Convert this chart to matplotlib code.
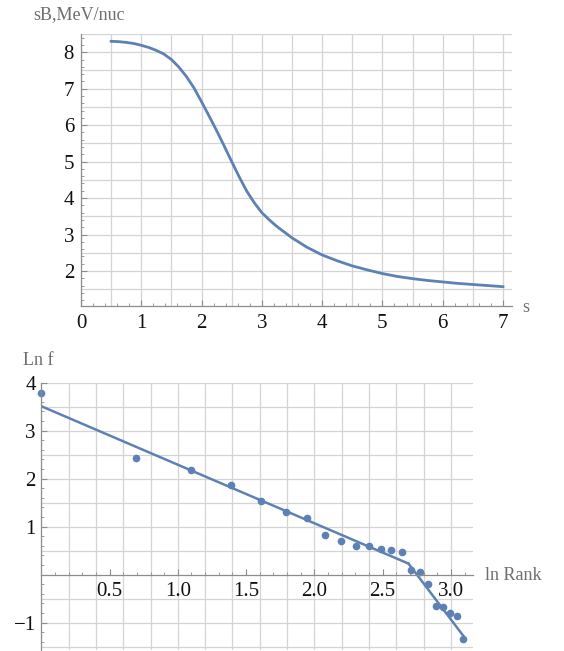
import numpy as np
import matplotlib
matplotlib.use('Agg')
import matplotlib.pyplot as plt
from matplotlib.ticker import MultipleLocator, FixedLocator

plt.rcParams['font.family'] = ['Liberation Serif', 'DejaVu Serif']

# top chart: binding energy per nucleon vs s
s_vals = [0.5, 0.625, 0.75, 0.875, 1.0, 1.125, 1.25, 1.375, 1.5, 1.625, 1.75, 1.875,
          2.0, 2.125, 2.25, 2.375, 2.5, 2.625, 2.75, 2.875, 3.0, 3.125, 3.25, 3.5,
          3.75, 4.0, 4.25, 4.5, 4.75, 5.0, 5.25, 5.5, 5.75, 6.0, 6.25, 6.5, 6.75, 7.0]
sB_vals = [8.30, 8.29, 8.27, 8.24, 8.19, 8.13, 8.05, 7.95, 7.80, 7.59, 7.33, 7.02,
           6.64, 6.25, 5.85, 5.43, 5.00, 4.58, 4.19, 3.87, 3.60, 3.40, 3.22, 2.91,
           2.65, 2.44, 2.28, 2.14, 2.03, 1.93, 1.85, 1.79, 1.74, 1.70, 1.66, 1.63, 1.60, 1.57]

# bottom chart: ln f vs ln rank, ranks 1..22
ln_rank = [0.0, 0.693, 1.099, 1.386, 1.609, 1.792, 1.946, 2.079, 2.197, 2.303, 2.398,
           2.485, 2.565, 2.639, 2.708, 2.773, 2.833, 2.890, 2.944, 2.996, 3.045, 3.091]
ln_f = [3.78, 2.43, 2.18, 1.86, 1.53, 1.30, 1.19, 0.83, 0.70, 0.60, 0.60,
        0.53, 0.52, 0.48, 0.09, 0.06, -0.19, -0.65, -0.68, -0.79, -0.86, -1.34]
fit1_x = [0.0, 2.69]
fit1_y = [3.51, 0.23]
fit2_x = [2.69, 3.09]
fit2_y = [0.23, -1.27]

blue = '#5E81B5'
axis_gray = '#8c8c8c'
grid_gray = '#d4d4d4'
label_gray = '#6e6e6e'

W, H = 564, 651
fig = plt.figure(figsize=(W / 100, H / 100), dpi=100)


def rect(x0, y0, x1, y1):
    return [x0 / W, 1 - y1 / H, (x1 - x0) / W, (y1 - y0) / H]


def style(ax):
    for sp in ['top', 'right']:
        ax.spines[sp].set_visible(False)
    for sp in ['left', 'bottom']:
        ax.spines[sp].set_color(axis_gray)
        ax.spines[sp].set_linewidth(0.9)
    ax.tick_params(which='both', direction='in', color=axis_gray, labelsize=15,
                   labelcolor='#111111')
    ax.tick_params(which='major', length=4, width=0.8)
    ax.tick_params(which='minor', length=2.2, width=0.6)
    ax.set_axisbelow(True)


# ---- top ----
ax1 = fig.add_axes(rect(81, 34, 512, 306))
style(ax1)
ax1.plot(s_vals, sB_vals, color=blue, lw=2.0)
ax1.set_xlim(0, 7.15)
ax1.set_ylim(1.04, 8.5)
ax1.xaxis.set_major_locator(MultipleLocator(1))
ax1.xaxis.set_minor_locator(MultipleLocator(0.2))
ax1.yaxis.set_major_locator(FixedLocator([2, 3, 4, 5, 6, 7, 8]))
ax1.yaxis.set_minor_locator(MultipleLocator(0.2))
ax1.tick_params(axis='x', pad=6)
ax1.tick_params(axis='y', pad=5)
for v in np.arange(0.5, 7.01, 0.5):
    ax1.axvline(v, color=grid_gray, lw=0.9, zorder=0)
for v in np.arange(1.5, 8.51, 0.5):
    ax1.axhline(v, color=grid_gray, lw=0.9, zorder=0)
fig.text(33 / W, 1 - 15 / H, 'sB,MeV/nuc', ha='left', va='center', fontsize=13, color=label_gray)
fig.text(522 / W, 1 - 308 / H, 's', ha='left', va='center', fontsize=13, color=label_gray)

# ---- bottom ----
ax2 = fig.add_axes(rect(41.3, 382.7, 472.7, 650))
style(ax2)
ax2.spines['bottom'].set_position(('data', 0))
ax2.plot(fit1_x, fit1_y, color=blue, lw=1.8)
ax2.plot(fit2_x, fit2_y, color=blue, lw=1.8)
ax2.plot(ln_rank, ln_f, 'o', color=blue, ms=4.5, clip_on=False)
ax2.set_xlim(0, 3.16)
ax2.set_ylim(-1.57, 4.0)
ax2.xaxis.set_major_locator(FixedLocator([0.5, 1.0, 1.5, 2.0, 2.5, 3.0]))
ax2.xaxis.set_minor_locator(MultipleLocator(0.1))
ax2.xaxis.set_major_formatter(plt.FuncFormatter(lambda v, p: '%.1f' % v))
ax2.yaxis.set_major_locator(FixedLocator([-1, 1, 2, 3, 4]))
ax2.yaxis.set_minor_locator(MultipleLocator(0.2))
ax2.yaxis.set_major_formatter(plt.FuncFormatter(lambda v, p: '\u2212%d' % -v if v < 0 else '%d' % v))
ax2.tick_params(axis='x', pad=5)
ax2.tick_params(axis='y', pad=4)
for v in np.arange(0.2, 3.01, 0.2):
    ax2.axvline(v, color=grid_gray, lw=0.9, zorder=0)
for v in np.arange(-1.5, 4.01, 0.5):
    if abs(v) > 1e-9:
        ax2.axhline(v, color=grid_gray, lw=0.9, zorder=0)
fig.text(23 / W, 1 - 360 / H, 'Ln f', ha='left', va='center', fontsize=13, color=label_gray)
fig.text(485 / W, 1 - 576 / H, 'ln Rank', ha='left', va='center', fontsize=13, color=label_gray)

fig.savefig('out.png', dpi=100)
